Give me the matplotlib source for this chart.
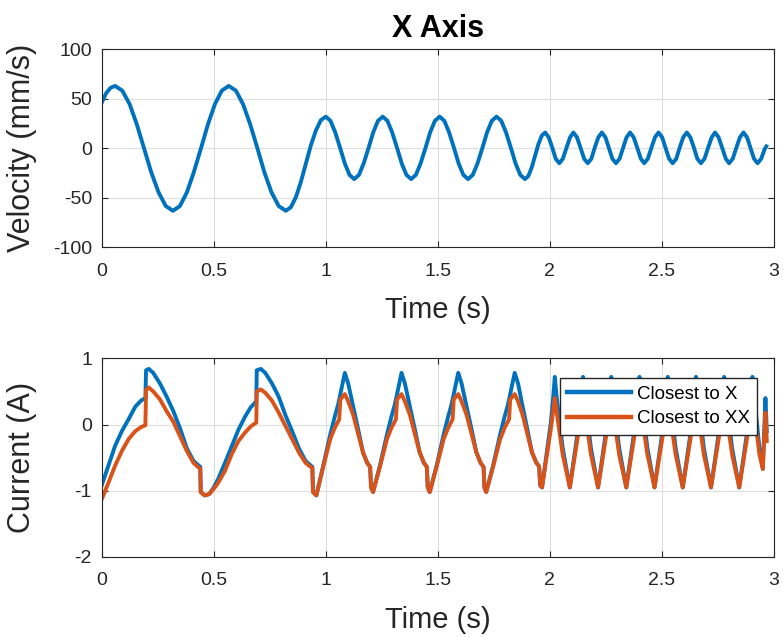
import matplotlib
matplotlib.use("Agg")
import matplotlib.pyplot as plt
from matplotlib.ticker import FixedLocator, FixedFormatter

plt.rcParams["font.family"] = ["Liberation Sans", "DejaVu Sans"]
plt.rcParams["axes.unicode_minus"] = False

# velocity (s, mm/s)
vel_t = [0.000, 0.020, 0.040,
         0.060, 0.092, 0.125, 0.157, 0.189, 0.221, 0.254, 0.286,
         0.318, 0.349, 0.380, 0.411, 0.443, 0.474, 0.505, 0.536,
         0.567, 0.599, 0.631, 0.663, 0.695, 0.726, 0.758, 0.790,
         0.822, 0.844, 0.867, 0.889, 0.911, 0.933, 0.956, 0.978,
         1.000, 1.021, 1.042, 1.064, 1.085, 1.106,
         1.127, 1.148, 1.169, 1.191, 1.212, 1.233,
         1.254, 1.275, 1.296, 1.318, 1.339, 1.360,
         1.381, 1.402, 1.423, 1.445, 1.466, 1.487,
         1.508, 1.529, 1.550, 1.572, 1.593, 1.614,
         1.635, 1.656, 1.677, 1.699, 1.720, 1.741,
         1.762, 1.783, 1.804, 1.826, 1.847, 1.868,
         1.889, 1.904, 1.919, 1.934, 1.949, 1.964,
         1.979, 1.995, 2.011, 2.026, 2.042, 2.058, 2.074, 2.090,
         2.105, 2.121, 2.137, 2.153, 2.169, 2.185, 2.200, 2.216,
         2.232, 2.248, 2.263, 2.279, 2.295, 2.311, 2.327, 2.342,
         2.358, 2.374, 2.390, 2.406, 2.421, 2.437, 2.453, 2.469,
         2.485, 2.501, 2.516, 2.532, 2.548, 2.564, 2.579, 2.595,
         2.611, 2.627, 2.643, 2.658, 2.674, 2.690, 2.706, 2.722,
         2.737, 2.753, 2.769, 2.785, 2.800, 2.816, 2.832, 2.848,
         2.864, 2.880, 2.895, 2.911, 2.927, 2.943, 2.958, 2.966]
vel = [46.0, 55.7, 61.1,
       63.0, 58.2, 44.5, 24.1, 0.0, -24.1, -44.5, -58.2,
       -63.0, -58.2, -44.5, -24.1, 0.0, 24.1, 44.5, 58.2,
       63.0, 58.2, 44.5, 24.1, 0.0, -24.1, -44.5, -58.2,
       -63.0, -59.4, -49.1, -33.7, -15.5, 2.7, 18.1, 28.4,
       32.0, 27.8, 16.3, 0.5, -15.3, -26.8,
       -31.0, -26.8, -15.3, 0.5, 16.3, 27.8,
       32.0, 27.8, 16.3, 0.5, -15.3, -26.8,
       -31.0, -26.8, -15.3, 0.5, 16.3, 27.8,
       32.0, 27.8, 16.3, 0.5, -15.3, -26.8,
       -31.0, -26.8, -15.3, 0.5, 16.3, 27.8,
       32.0, 27.8, 16.3, 0.5, -15.3, -26.8,
       -31.0, -27.9, -19.3, -7.5, 4.3, 12.9,
       16.0, 11.1, 0.5, -10.5, -15.0, -10.5, 0.5, 11.1,
       16.0, 11.1, 0.5, -10.5, -15.0, -10.5, 0.5, 11.1,
       16.0, 11.1, 0.5, -10.5, -15.0, -10.5, 0.5, 11.1,
       16.0, 11.1, 0.5, -10.5, -15.0, -10.5, 0.5, 11.1,
       16.0, 11.1, 0.5, -10.5, -15.0, -10.5, 0.5, 11.1,
       16.0, 11.1, 0.5, -10.5, -15.0, -10.5, 0.5, 11.1,
       16.0, 11.1, 0.5, -10.5, -15.0, -10.5, 0.5, 11.1,
       16.0, 11.1, 0.5, -10.5, -15.0, -10.5, -1.0, 2.0]

# current, "Closest to X" (s, A)
cur_x_t = [0.000, 0.030, 0.060, 0.090, 0.120, 0.150, 0.175, 0.195, 0.198, 0.210,
           0.230, 0.260, 0.290, 0.320, 0.350, 0.380, 0.410, 0.440, 0.442, 0.460,
           0.480, 0.500, 0.520, 0.550, 0.580, 0.610, 0.640, 0.665, 0.690, 0.692,
           0.710, 0.730, 0.760, 0.790, 0.820, 0.850, 0.880, 0.910, 0.940, 0.943, 0.958,
           0.990, 1.020, 1.040, 1.055, 1.075, 1.085, 1.100, 1.122, 1.145, 1.166, 1.185, 1.198, 1.202, 1.211,
           1.243, 1.273, 1.293, 1.308, 1.328, 1.338, 1.353, 1.375, 1.398, 1.419, 1.438, 1.451, 1.455, 1.464,
           1.496, 1.526, 1.546, 1.561, 1.581, 1.591, 1.606, 1.628, 1.651, 1.672, 1.691, 1.704, 1.708, 1.716,
           1.748, 1.778, 1.798, 1.813, 1.833, 1.843, 1.858, 1.878, 1.900, 1.920, 1.940, 1.952, 1.957, 1.965,
           2.005, 2.015, 2.022, 2.030, 2.057, 2.089,
           2.131, 2.141, 2.148, 2.156, 2.183, 2.215,
           2.257, 2.267, 2.274, 2.282, 2.309, 2.341,
           2.383, 2.393, 2.400, 2.408, 2.435, 2.467,
           2.509, 2.519, 2.526, 2.534, 2.561, 2.593,
           2.635, 2.645, 2.652, 2.660, 2.687, 2.719,
           2.761, 2.771, 2.778, 2.786, 2.813, 2.845,
           2.887, 2.897, 2.904, 2.912, 2.935, 2.950, 2.962, 2.968]
cur_x = [-0.92, -0.62, -0.32, -0.10, 0.08, 0.27, 0.36, 0.40, 0.82, 0.84,
         0.78, 0.62, 0.42, 0.20, -0.06, -0.36, -0.55, -0.64, -1.02, -1.07,
         -1.05, -0.95, -0.82, -0.58, -0.33, -0.08, 0.12, 0.26, 0.35, 0.82,
         0.84, 0.78, 0.62, 0.42, 0.14, -0.10, -0.36, -0.55, -0.64, -1.02, -1.07,
         -0.60, -0.15, 0.12, 0.30, 0.62, 0.78, 0.62, 0.28, -0.08, -0.42, -0.58, -0.64, -0.95, -1.02,
         -0.60, -0.15, 0.12, 0.30, 0.62, 0.78, 0.62, 0.28, -0.08, -0.42, -0.58, -0.64, -0.95, -1.02,
         -0.60, -0.15, 0.12, 0.30, 0.62, 0.78, 0.62, 0.28, -0.08, -0.42, -0.58, -0.64, -0.95, -1.02,
         -0.60, -0.15, 0.12, 0.30, 0.62, 0.78, 0.62, 0.28, -0.08, -0.42, -0.58, -0.63, -0.92, -0.95,
         0.05, 0.42, 0.72, 0.42, -0.35, -0.95,
         0.05, 0.42, 0.72, 0.42, -0.35, -0.95,
         0.05, 0.42, 0.72, 0.42, -0.35, -0.95,
         0.05, 0.42, 0.72, 0.42, -0.35, -0.95,
         0.05, 0.42, 0.72, 0.42, -0.35, -0.95,
         0.05, 0.42, 0.72, 0.42, -0.35, -0.95,
         0.05, 0.42, 0.72, 0.42, -0.35, -0.95,
         0.05, 0.42, 0.72, 0.42, -0.35, -0.67, 0.40, -0.10]

# current, "Closest to XX"
cur_xx_t = [0.000, 0.030, 0.060, 0.090, 0.120, 0.150, 0.175, 0.195, 0.198, 0.210,
            0.230, 0.260, 0.290, 0.320, 0.350, 0.380, 0.410, 0.440, 0.442, 0.460,
            0.480, 0.500, 0.520, 0.550, 0.580, 0.610, 0.640, 0.665, 0.690, 0.692,
            0.710, 0.730, 0.760, 0.790, 0.820, 0.850, 0.880, 0.910, 0.940, 0.943, 0.958,
            0.990, 1.020, 1.040, 1.060, 1.065, 1.085, 1.100, 1.122, 1.145, 1.166, 1.185, 1.198, 1.202, 1.211,
            1.243, 1.273, 1.293, 1.313, 1.318, 1.338, 1.353, 1.375, 1.398, 1.419, 1.438, 1.451, 1.455, 1.464,
            1.496, 1.526, 1.546, 1.566, 1.571, 1.591, 1.606, 1.628, 1.651, 1.672, 1.691, 1.704, 1.708, 1.716,
            1.748, 1.778, 1.798, 1.818, 1.823, 1.843, 1.858, 1.878, 1.900, 1.920, 1.940, 1.952, 1.957, 1.965,
            2.005, 2.015, 2.022, 2.030, 2.057, 2.089,
            2.131, 2.141, 2.148, 2.156, 2.183, 2.215,
            2.257, 2.267, 2.274, 2.282, 2.309, 2.341,
            2.383, 2.393, 2.400, 2.408, 2.435, 2.467,
            2.509, 2.519, 2.526, 2.534, 2.561, 2.593,
            2.635, 2.645, 2.652, 2.660, 2.687, 2.719,
            2.761, 2.771, 2.778, 2.786, 2.813, 2.845,
            2.887, 2.897, 2.904, 2.912, 2.935, 2.950, 2.962, 2.968]
cur_xx = [-1.13, -0.88, -0.62, -0.40, -0.22, -0.10, -0.04, -0.01, 0.52, 0.56,
          0.50, 0.38, 0.20, 0.04, -0.18, -0.40, -0.58, -0.67, -1.02, -1.07,
          -1.05, -0.97, -0.88, -0.70, -0.45, -0.25, -0.12, -0.03, 0.03, 0.50,
          0.53, 0.48, 0.36, 0.18, -0.02, -0.22, -0.42, -0.58, -0.66, -1.02, -1.07,
          -0.62, -0.22, -0.05, 0.08, 0.38, 0.46, 0.35, 0.15, -0.15, -0.42, -0.58, -0.64, -0.95, -1.02,
          -0.62, -0.22, -0.05, 0.08, 0.38, 0.46, 0.35, 0.15, -0.15, -0.42, -0.58, -0.64, -0.95, -1.02,
          -0.62, -0.22, -0.05, 0.08, 0.38, 0.46, 0.35, 0.15, -0.15, -0.42, -0.58, -0.64, -0.95, -1.02,
          -0.62, -0.22, -0.05, 0.08, 0.38, 0.46, 0.35, 0.15, -0.15, -0.42, -0.58, -0.63, -0.92, -0.95,
          -0.05, 0.22, 0.40, 0.20, -0.45, -0.95,
          -0.05, 0.22, 0.40, 0.20, -0.45, -0.95,
          -0.05, 0.22, 0.40, 0.20, -0.45, -0.95,
          -0.05, 0.22, 0.40, 0.20, -0.45, -0.95,
          -0.05, 0.22, 0.40, 0.20, -0.45, -0.95,
          -0.05, 0.22, 0.40, 0.20, -0.45, -0.95,
          -0.05, 0.22, 0.40, 0.20, -0.45, -0.95,
          -0.05, 0.22, 0.40, 0.20, -0.45, -0.67, 0.18, -0.25]

x_ticks = [0, 0.5, 1, 1.5, 2, 2.5, 3]
x_tick_labels = ["0", "0.5", "1", "1.5", "2", "2.5", "3"]
vel_ticks = [-100, -50, 0, 50, 100]
cur_ticks = [-2, -1, 0, 1]
series_labels = ["Closest to X", "Closest to XX"]

BLUE = "#0072BD"
ORANGE = "#D95319"
INK = "#262626"


def matlab_style(ax, yticks, ylim):
    ax.set_xlim(0, 3)
    ax.set_ylim(*ylim)
    ax.xaxis.set_major_locator(FixedLocator(x_ticks))
    ax.xaxis.set_major_formatter(FixedFormatter(x_tick_labels))
    ax.yaxis.set_major_locator(FixedLocator(yticks))
    ax.grid(True, color="#dedede", linewidth=0.8)
    ax.set_axisbelow(True)
    ax.tick_params(direction="in", top=True, right=True, length=4, width=0.8,
                   colors=INK, labelsize=14, pad=7)
    ax.tick_params(axis="x", pad=11)
    for sp in ax.spines.values():
        sp.set_color(INK)
        sp.set_linewidth(0.8)
    ax.set_xlabel("Time (s)", fontsize=21, color=INK, labelpad=12)
    ax.yaxis.set_label_coords(-0.096, 0.5)


fig = plt.figure(figsize=(7.84, 6.37), dpi=100)

ax1 = fig.add_axes([0.1297, 0.6115, 0.8575, 0.3112])
ax1.plot(vel_t, vel, color=BLUE, linewidth=2.8)
matlab_style(ax1, vel_ticks, (-100, 100))
ax1.set_ylabel("Velocity (mm/s)", fontsize=22, color=INK)
ax1.set_title("X Axis", fontsize=22, fontweight="bold", pad=9)

ax2 = fig.add_axes([0.1297, 0.1256, 0.8575, 0.3119])
ax2.plot(cur_x_t, cur_x, color=BLUE, linewidth=2.8, label=series_labels[0])
ax2.plot(cur_xx_t, cur_xx, color=ORANGE, linewidth=2.8, label=series_labels[1])
matlab_style(ax2, cur_ticks, (-2, 1))
ax2.set_ylabel("Current (A)", fontsize=22, color=INK)
leg = ax2.legend(loc="upper right", bbox_to_anchor=(0.975, 0.90), borderaxespad=0,
                 fontsize=13.5, fancybox=False, framealpha=1, edgecolor=INK,
                 handlelength=3.4, handletextpad=0.3, labelspacing=0.4, borderpad=0.4)
leg.get_frame().set_linewidth(1.0)
for line in leg.get_lines():
    line.set_linewidth(3.2)

fig.savefig("out.png", dpi=100)
